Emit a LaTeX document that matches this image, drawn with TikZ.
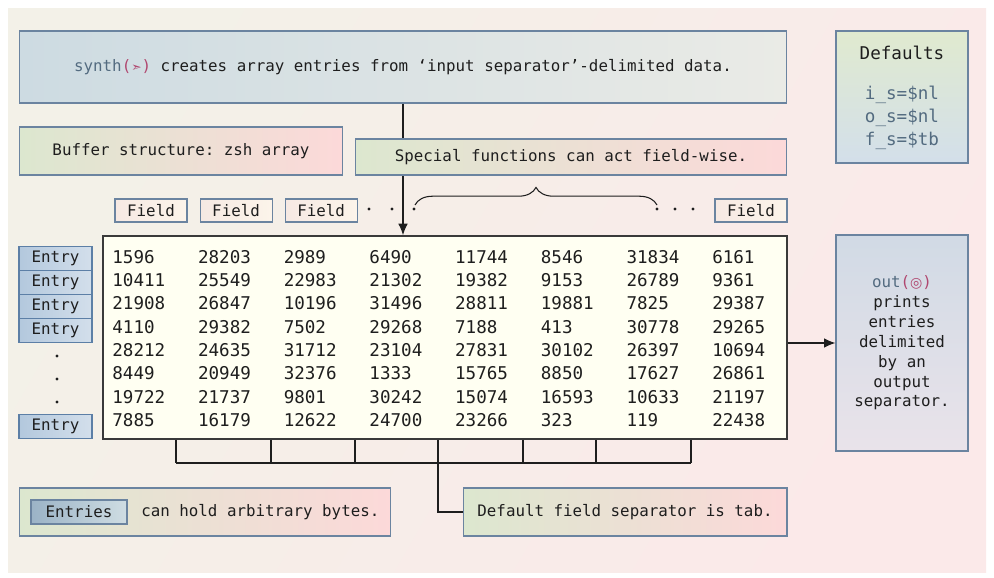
\documentclass[tikz,border=0pt]{standalone}
\usepackage{fontspec}
\setmonofont{DejaVu Sans Mono}
\newfontfamily\symfont{DejaVu Sans}
\usepackage{xcolor}
\usetikzlibrary{positioning,arrows.meta,decorations.pathreplacing}

\definecolor{bgA}{HTML}{F3F1E8}
\definecolor{bgB}{HTML}{FBE9E9}
\definecolor{boxline}{HTML}{6B84A0}
\definecolor{slateA}{HTML}{CDDBE2}
\definecolor{slateB}{HTML}{EAEBE6}
\definecolor{noteG}{HTML}{DCE7CF}
\definecolor{noteP}{HTML}{FCD9D9}
\definecolor{defG}{HTML}{E0EACF}
\definecolor{defB}{HTML}{D3DFEA}
\definecolor{fieldA}{HTML}{F6E9E3}
\definecolor{fieldB}{HTML}{FCF4EA}
\definecolor{entryA}{HTML}{B3C8DD}
\definecolor{entryB}{HTML}{D3DFEB}
\definecolor{entryline}{HTML}{5C7FA6}
\definecolor{outA}{HTML}{D1DAE5}
\definecolor{outB}{HTML}{E9E3EA}
\definecolor{arrayfill}{HTML}{FFFFF2}
\definecolor{arrayline}{HTML}{3A3A3A}
\definecolor{inkslate}{HTML}{536B80}
\definecolor{inkrose}{HTML}{B0476F}
\definecolor{ink}{HTML}{1E1E1E}
\definecolor{innerA}{HTML}{9BB3C6}
\definecolor{innerB}{HTML}{CFDDE3}

\begin{document}
\begin{tikzpicture}[x=0.02cm,y=-0.02cm,
    txt/.style={font=\ttfamily\fontsize{9}{11}\selectfont, text=ink, inner sep=0pt},
    box/.style={txt, draw=boxline, line width=0.6pt},
    note/.style={box, left color=noteG, right color=noteP},
    field/.style={box, left color=fieldA, right color=fieldB, minimum width=1.44cm, minimum height=0.46cm},
    entry/.style={box, draw=entryline, left color=entryA, right color=entryB, outer sep=0pt, minimum width=1.46cm, minimum height=0.48cm},
    num/.style={txt, font=\ttfamily\fontsize{10}{12}\selectfont, anchor=west},
    wire/.style={draw=ink, line width=0.7pt},
    arrowline/.style={wire, -{Latex[length=6.5pt,width=5.5pt]}}]
    % Background
    \useasboundingbox (0,0) rectangle (994,578);
    \fill[white] (0,0) rectangle (994,578);
    \shade[left color=bgA, right color=bgB, shading angle=60] (8,8) rectangle (986,572);

    % Place nodes
    \node [box, left color=slateA, right color=slateB, minimum width=15.36cm, minimum height=1.44cm] (synth) at (403,67)
        {{\color{inkslate}synth}{\color{inkrose}({\symfont\fontsize{7}{7}\selectfont ➣})} creates array entries from ‘input separator’-delimited data.};
    \node [box, top color=defG, bottom color=defB, minimum width=2.64cm, minimum height=2.64cm] (defaults) at (902,97) {};
    \node [txt, font=\ttfamily\fontsize{10}{12}\selectfont] (deftitle) at (902,53) {Defaults};
    \node [txt, font=\ttfamily\fontsize{10}{13}\selectfont, text=inkslate, align=center] (defvals) at (902,118)
        {i\_s=\$nl\\o\_s=\$nl\\f\_s=\$tb};
    \node [note, minimum width=6.48cm, minimum height=0.96cm] (buffer) at (181,151) {Buffer structure: zsh array};

    \node [box, draw=arrayline, line width=1pt, fill=arrayfill, minimum width=13.68cm, minimum height=4.06cm] (array) at (445,337.5) {};
    \draw[arrowline] (synth.south) -- (synth.south |- array.north);
    \node [note, minimum width=8.64cm, minimum height=0.72cm] (special) at (571,157) {Special functions can act field-wise.};

    % Fields
    \node [field] (field1) at (151,210.5) {Field};
    \node [field, right=0.24cm of field1] (field2) {Field};
    \node [field, right=0.24cm of field2] (field3) {Field};
    \node [field] (fieldn) at (751,210.5) {Field};
    \foreach \x in {369,392,414,657,675,693}
        \fill[ink] (\x,209) circle[radius=0.9pt];
    \coordinate (braceL) at (415,205);
    \coordinate (braceR) at (657,205);
    \draw[wire, line width=0.6pt, decorate, decoration={brace, amplitude=10pt}] (braceL) -- (braceR);

    % Data
    \foreach \row [count=\r from 0] in {
        {1596,28203,2989,6490,11744,8546,31834,6161},
        {10411,25549,22983,21302,19382,9153,26789,9361},
        {21908,26847,10196,31496,28811,19881,7825,29387},
        {4110,29382,7502,29268,7188,413,30778,29265},
        {28212,24635,31712,23104,27831,30102,26397,10694},
        {8449,20949,32376,1333,15765,8850,17627,26861},
        {19722,21737,9801,30242,15074,16593,10633,21197},
        {7885,16179,12622,24700,23266,323,119,22438}}
        \foreach \v [count=\c from 0] in \row
            \node [num] (n\r-\c) at (112+85.7*\c, 257+23.3*\r) {\v};

    % Entries
    \node [entry] (entry1) at (55.5,258.5) {Entry};
    \node [entry, below=0pt of entry1] (entry2) {Entry};
    \node [entry, below=0pt of entry2] (entry3) {Entry};
    \node [entry, below=0pt of entry3] (entry4) {Entry};
    \foreach \y in {356,379,402}
        \fill[ink] (57,\y) circle[radius=0.9pt];
    \node [entry] (entryn) at (55.5,426.5) {Entry};

    % Output
    \node [box, top color=outA, bottom color=outB, minimum width=2.64cm, minimum height=4.32cm, align=center,
           font=\ttfamily\fontsize{9}{11.3}\selectfont] (out) at (902,343)
        {{\color{inkslate}out}{\color{inkrose}({\symfont\fontsize{8}{8}\selectfont ◎})}\\prints\\entries\\delimited\\by an\\output\\separator.};
    \draw[arrowline] (array.east |- out.west) -- (out.west);

    % Notes below
    \node [note, minimum width=7.44cm, minimum height=0.96cm] (entriesnote) at (205,512) {};
    \node [box, left color=innerA, right color=innerB, minimum width=1.92cm, minimum height=0.48cm] (entriesbox) at (79,512) {Entries};
    \node [txt, anchor=west] (entriestext) at (141,512) {can hold arbitrary bytes.};
    \node [note, minimum width=6.48cm, minimum height=0.96cm] (sepnote) at (625,512) {Default field separator is tab.};

    % Draw edges
    \foreach \x [count=\i] in {176,271,355,438,523,596,691}
        \coordinate (comb\i) at (\x,463);
    \foreach \i in {1,...,7}
        \draw[wire] (comb\i |- array.south) -- (comb\i);
    \draw[wire] (comb1) -- (comb7);
    \draw[wire] (comb4) |- (sepnote.west);
\end{tikzpicture}
\end{document}
